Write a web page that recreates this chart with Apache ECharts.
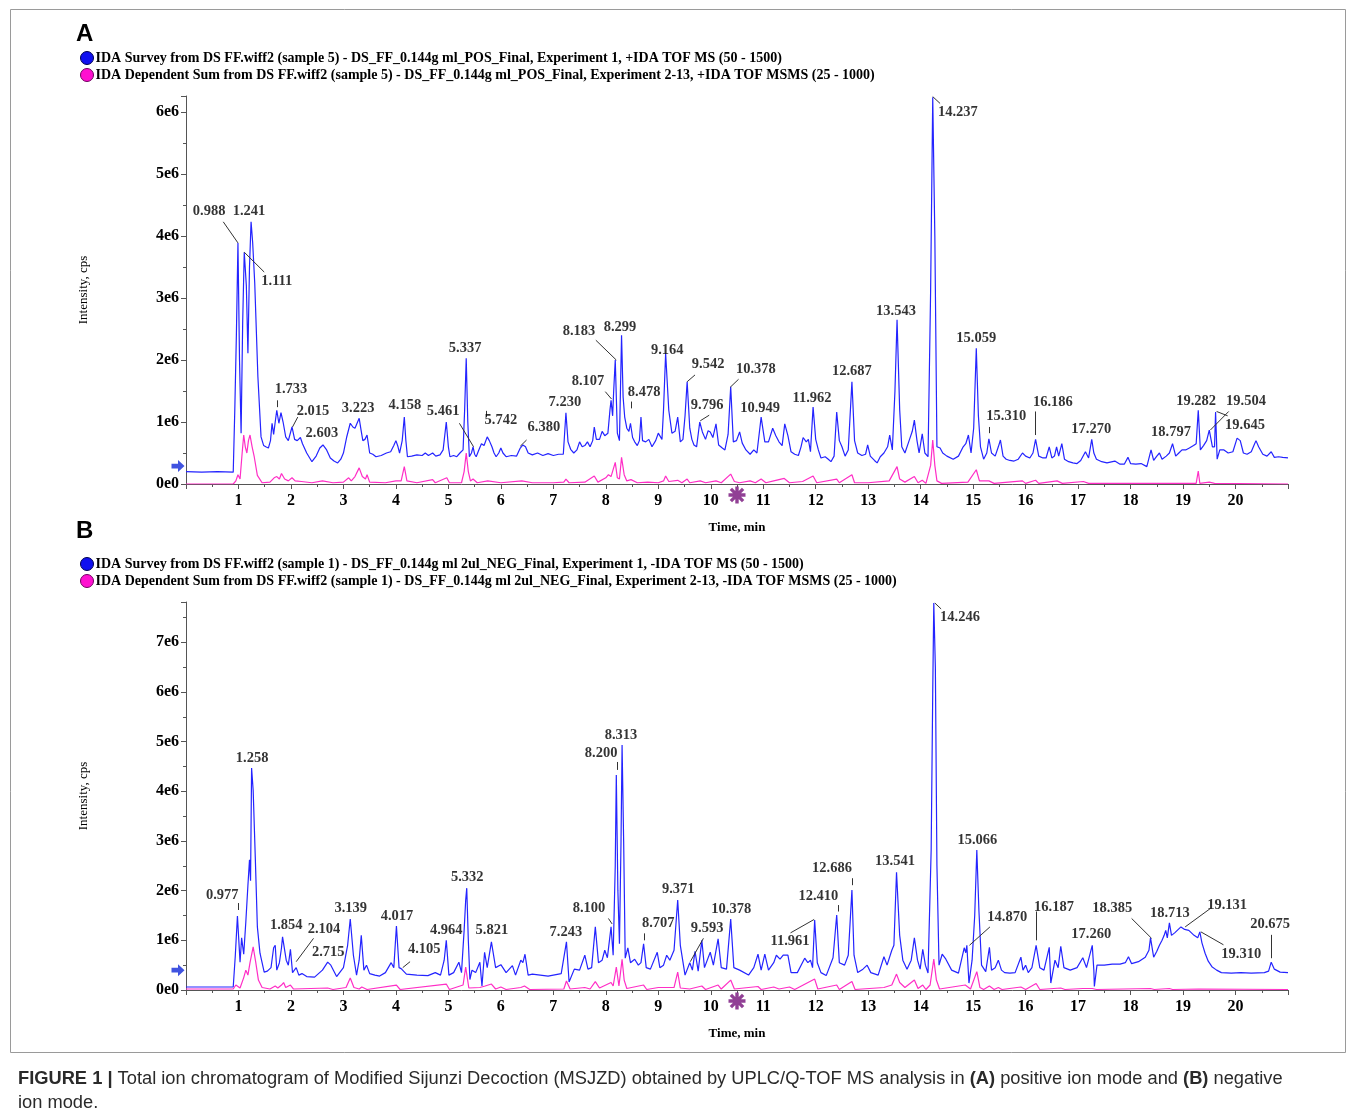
<!DOCTYPE html>
<html>
<head>
<meta charset="utf-8">
<title>TIC MSJZD</title>
<script src="https://cdn.jsdelivr.net/npm/echarts@6.0.0/dist/echarts.min.js"></script>
<style>
html,body{margin:0;padding:0;background:#fff;}
#chart{width:1355px;height:1120px;}
</style>
</head>
<body>
<div id="chart"></div>
<script>
// intensities are in units of 1e6 cps, time in min
var posSurvey = [[0,0.2],[0.3,0.19],[0.6,0.2],[0.9,0.19],[0.93,1.2],[0.96,2.4],[0.99,3.89],[1.02,2.0],[1.05,0.82],[1.08,2.6],[1.11,3.74],[1.15,3.2],[1.18,2.11],[1.21,3.5],[1.24,4.23],[1.27,3.9],[1.31,3.24],[1.37,1.73],[1.43,0.76],[1.48,0.62],[1.52,0.6],[1.57,0.58],[1.61,0.7],[1.64,0.98],[1.67,0.8],[1.7,1.0],[1.73,1.19],[1.77,0.98],[1.81,1.15],[1.85,1.0],[1.9,0.76],[1.95,0.7],[2.02,0.92],[2.07,0.72],[2.12,0.7],[2.18,0.75],[2.22,0.65],[2.3,0.5],[2.4,0.36],[2.48,0.45],[2.55,0.58],[2.61,0.63],[2.68,0.55],[2.75,0.42],[2.82,0.37],[2.89,0.34],[2.95,0.4],[3.0,0.5],[3.06,0.75],[3.13,0.98],[3.18,0.92],[3.22,0.9],[3.26,0.98],[3.3,1.06],[3.34,0.85],[3.37,0.7],[3.41,0.72],[3.45,0.79],[3.5,0.5],[3.56,0.48],[3.62,0.44],[3.72,0.46],[3.82,0.5],[3.9,0.52],[3.96,0.62],[4.0,0.7],[4.04,0.6],[4.07,0.5],[4.12,0.7],[4.16,1.08],[4.19,0.7],[4.22,0.44],[4.3,0.45],[4.4,0.47],[4.5,0.46],[4.56,0.5],[4.62,0.46],[4.7,0.5],[4.76,0.45],[4.84,0.47],[4.9,0.55],[4.96,1.0],[5.0,0.6],[5.03,0.44],[5.1,0.46],[5.16,0.44],[5.22,0.5],[5.28,0.55],[5.31,1.2],[5.34,2.03],[5.37,1.0],[5.4,0.44],[5.44,0.5],[5.47,0.6],[5.5,0.48],[5.53,0.44],[5.58,0.55],[5.63,0.65],[5.68,0.62],[5.74,0.76],[5.78,0.7],[5.83,0.6],[5.87,0.5],[5.91,0.44],[5.96,0.5],[6.0,0.58],[6.04,0.5],[6.1,0.44],[6.2,0.46],[6.3,0.45],[6.37,0.58],[6.42,0.63],[6.47,0.6],[6.52,0.5],[6.6,0.47],[6.7,0.5],[6.8,0.46],[6.9,0.49],[7.0,0.46],[7.1,0.48],[7.19,0.48],[7.24,1.15],[7.28,0.68],[7.33,0.56],[7.39,0.5],[7.45,0.55],[7.5,0.68],[7.55,0.6],[7.6,0.62],[7.65,0.68],[7.7,0.6],[7.75,0.7],[7.78,0.92],[7.82,0.72],[7.88,0.72],[7.93,0.85],[7.98,0.78],[8.04,0.82],[8.08,1.2],[8.1,1.35],[8.13,1.1],[8.15,1.5],[8.18,2.0],[8.22,0.82],[8.26,0.7],[8.3,2.4],[8.33,1.4],[8.36,1.08],[8.4,0.9],[8.44,0.85],[8.47,0.98],[8.51,0.75],[8.55,0.68],[8.6,0.62],[8.64,0.7],[8.67,1.08],[8.7,0.7],[8.76,0.68],[8.82,0.72],[8.88,0.6],[8.95,0.7],[9.0,0.82],[9.07,0.72],[9.1,1.2],[9.14,2.11],[9.2,1.19],[9.26,0.82],[9.32,0.85],[9.37,1.08],[9.42,0.68],[9.47,0.72],[9.51,1.1],[9.55,1.65],[9.6,0.9],[9.64,0.72],[9.68,0.63],[9.73,0.6],[9.79,1.0],[9.84,0.84],[9.9,0.72],[9.95,0.86],[9.99,0.84],[10.04,0.75],[10.1,0.97],[10.15,0.63],[10.22,0.58],[10.27,0.55],[10.33,0.8],[10.38,1.57],[10.43,0.68],[10.49,0.7],[10.55,0.84],[10.6,0.66],[10.67,0.55],[10.75,0.48],[10.82,0.55],[10.88,0.5],[10.96,1.08],[11.03,0.68],[11.1,0.68],[11.18,0.9],[11.24,0.78],[11.3,0.68],[11.36,0.62],[11.41,0.97],[11.47,0.78],[11.53,0.52],[11.6,0.48],[11.67,0.46],[11.72,0.6],[11.76,0.75],[11.82,0.68],[11.86,0.72],[11.9,0.52],[11.95,1.24],[12.0,0.72],[12.05,0.55],[12.1,0.42],[12.18,0.44],[12.24,0.4],[12.29,0.36],[12.35,0.45],[12.4,1.16],[12.45,0.7],[12.5,0.6],[12.56,0.45],[12.62,0.55],[12.69,1.65],[12.74,0.7],[12.8,0.5],[12.88,0.46],[12.95,0.48],[12.99,0.63],[13.04,0.45],[13.12,0.38],[13.17,0.34],[13.23,0.44],[13.3,0.5],[13.37,0.6],[13.41,0.79],[13.46,0.55],[13.51,1.5],[13.55,2.65],[13.6,1.2],[13.64,0.6],[13.7,0.5],[13.78,0.7],[13.84,0.85],[13.88,1.03],[13.93,0.7],[13.97,0.5],[14.03,0.81],[14.08,0.5],[14.14,0.44],[14.19,3.13],[14.23,6.24],[14.27,4.0],[14.31,0.6],[14.37,0.58],[14.42,0.5],[14.5,0.45],[14.62,0.4],[14.72,0.45],[14.81,0.6],[14.86,0.65],[14.91,0.79],[14.96,0.5],[15.01,0.9],[15.06,2.19],[15.1,1.1],[15.14,0.6],[15.2,0.4],[15.26,0.5],[15.3,0.73],[15.35,0.5],[15.42,0.45],[15.48,0.6],[15.52,0.71],[15.57,0.45],[15.63,0.4],[15.7,0.38],[15.78,0.37],[15.86,0.4],[15.94,0.5],[16.0,0.45],[16.08,0.42],[16.14,0.5],[16.19,0.72],[16.25,0.45],[16.33,0.42],[16.39,0.42],[16.45,0.6],[16.5,0.42],[16.55,0.45],[16.59,0.6],[16.63,0.45],[16.69,0.65],[16.74,0.4],[16.82,0.36],[16.9,0.34],[16.98,0.33],[17.05,0.38],[17.14,0.52],[17.2,0.42],[17.26,0.72],[17.3,0.5],[17.35,0.4],[17.45,0.36],[17.55,0.34],[17.7,0.37],[17.8,0.32],[17.88,0.32],[17.95,0.43],[18.0,0.33],[18.1,0.32],[18.2,0.33],[18.31,0.28],[18.39,0.55],[18.44,0.38],[18.5,0.45],[18.55,0.5],[18.6,0.4],[18.68,0.45],[18.74,0.5],[18.8,0.65],[18.86,0.45],[18.92,0.5],[18.98,0.55],[19.05,0.55],[19.12,0.58],[19.2,0.62],[19.25,0.65],[19.29,1.19],[19.33,0.55],[19.39,0.62],[19.45,0.7],[19.5,0.87],[19.56,0.6],[19.6,0.6],[19.62,1.16],[19.65,0.4],[19.7,0.55],[19.78,0.55],[19.86,0.5],[19.95,0.52],[20.03,0.74],[20.09,0.7],[20.15,0.5],[20.22,0.48],[20.3,0.52],[20.35,0.62],[20.39,0.7],[20.44,0.6],[20.52,0.48],[20.6,0.45],[20.68,0.52],[20.74,0.43],[20.82,0.44],[20.9,0.43],[21,0.42]];

var posDependent = [[0,0],[0.9,0],[0.95,0.05],[0.99,0.15],[1.03,0.08],[1.07,0.5],[1.1,0.79],[1.13,0.6],[1.16,0.5],[1.19,0.7],[1.22,0.79],[1.26,0.6],[1.3,0.44],[1.36,0.14],[1.45,0.02],[1.6,0.03],[1.68,0.1],[1.73,0.12],[1.78,0.08],[1.82,0.17],[1.88,0.08],[1.95,0.05],[2.02,0.1],[2.08,0.05],[2.2,0.04],[2.4,0.02],[2.6,0.05],[2.8,0.02],[3.0,0.03],[3.1,0.1],[3.15,0.05],[3.22,0.12],[3.3,0.26],[3.36,0.12],[3.42,0.08],[3.45,0.15],[3.5,0.03],[3.8,0.02],[4.0,0.05],[4.1,0.05],[4.16,0.28],[4.21,0.05],[4.4,0.02],[4.7,0.07],[4.75,0.02],[4.97,0.1],[5.02,0.02],[5.25,0.02],[5.3,0.2],[5.34,0.5],[5.38,0.2],[5.42,0.05],[5.47,0.08],[5.55,0.02],[5.75,0.05],[6.0,0.02],[6.4,0.05],[6.6,0.02],[7.0,0.02],[7.2,0.03],[7.24,0.08],[7.3,0.02],[7.6,0.03],[7.78,0.13],[7.85,0.03],[8.0,0.1],[8.05,0.15],[8.1,0.12],[8.18,0.35],[8.22,0.1],[8.26,0.08],[8.3,0.43],[8.35,0.15],[8.4,0.05],[8.48,0.07],[8.6,0.02],[8.8,0.03],[9.0,0.02],[9.1,0.05],[9.14,0.13],[9.2,0.04],[9.37,0.06],[9.45,0.02],[9.55,0.08],[9.6,0.02],[9.8,0.05],[9.9,0.02],[10.1,0.05],[10.2,0.02],[10.38,0.16],[10.45,0.04],[10.55,0.02],[10.75,0.05],[10.85,0.02],[10.96,0.08],[11.05,0.02],[11.2,0.05],[11.4,0.09],[11.5,0.02],[11.75,0.04],[11.95,0.13],[12.02,0.02],[12.4,0.08],[12.45,0.02],[12.69,0.15],[12.74,0.02],[13.0,0.02],[13.4,0.05],[13.55,0.28],[13.6,0.08],[13.7,0.03],[13.88,0.12],[13.95,0.02],[14.03,0.06],[14.1,0.01],[14.19,0.3],[14.23,0.71],[14.27,0.3],[14.31,0.05],[14.4,0.01],[14.9,0.03],[15.06,0.23],[15.12,0.05],[15.3,0.05],[15.4,0.01],[15.94,0.05],[16.0,0.01],[16.19,0.06],[16.25,0.01],[16.6,0.05],[16.7,0.01],[17.1,0.04],[17.2,0.01],[19.25,0.01],[19.29,0.21],[19.32,0.01],[19.5,0.03],[19.6,0.01],[21,0]];

var negSurvey = [[0,0.06],[0.5,0.06],[0.9,0.06],[0.94,0.7],[0.98,1.49],[1.03,0.56],[1.06,1.05],[1.1,0.72],[1.14,1.37],[1.18,2.11],[1.21,2.62],[1.23,2.2],[1.25,4.47],[1.28,4.02],[1.32,2.68],[1.36,1.27],[1.41,0.74],[1.49,0.36],[1.55,0.38],[1.62,0.45],[1.67,0.85],[1.7,0.9],[1.73,0.4],[1.78,0.55],[1.82,0.85],[1.84,1.07],[1.87,1.1],[1.91,0.6],[1.95,0.5],[1.99,0.82],[2.03,0.35],[2.1,0.45],[2.15,0.3],[2.21,0.33],[2.3,0.27],[2.45,0.26],[2.6,0.4],[2.7,0.56],[2.76,0.5],[2.87,0.27],[3.0,0.45],[3.08,0.9],[3.13,1.43],[3.19,0.7],[3.25,0.3],[3.3,0.6],[3.34,1.1],[3.39,0.4],[3.44,0.5],[3.5,0.33],[3.6,0.3],[3.69,0.28],[3.8,0.35],[3.91,0.55],[3.96,0.45],[4.01,1.29],[4.06,0.45],[4.1,0.43],[4.2,0.32],[4.4,0.3],[4.61,0.29],[4.75,0.35],[4.85,0.3],[4.92,0.6],[4.96,1.0],[5.01,0.3],[5.1,0.35],[5.2,0.56],[5.25,0.35],[5.3,1.2],[5.33,1.81],[5.35,2.05],[5.38,1.0],[5.41,0.21],[5.45,0.4],[5.52,0.35],[5.6,0.56],[5.64,0.08],[5.69,0.76],[5.74,0.45],[5.82,0.97],[5.9,0.45],[6.0,0.51],[6.1,0.35],[6.22,0.49],[6.28,0.3],[6.38,0.6],[6.42,0.55],[6.46,0.72],[6.52,0.3],[6.6,0.32],[6.75,0.3],[6.9,0.28],[7.0,0.3],[7.15,0.33],[7.25,0.97],[7.3,0.16],[7.4,0.42],[7.5,0.4],[7.6,0.7],[7.66,0.42],[7.73,0.45],[7.8,1.27],[7.86,0.55],[7.93,0.6],[7.98,0.8],[8.03,0.65],[8.1,1.27],[8.14,0.7],[8.18,2.5],[8.2,4.33],[8.23,2.0],[8.26,0.93],[8.29,3.0],[8.31,4.93],[8.34,3.0],[8.37,0.64],[8.42,0.85],[8.47,0.55],[8.55,0.62],[8.62,0.5],[8.67,0.55],[8.72,0.93],[8.77,0.45],[8.85,0.42],[8.98,0.76],[9.03,0.45],[9.1,0.5],[9.16,0.7],[9.22,0.6],[9.3,0.8],[9.37,1.81],[9.42,0.9],[9.51,0.3],[9.6,0.55],[9.65,0.4],[9.7,0.78],[9.76,0.38],[9.83,1.0],[9.88,0.45],[9.99,0.76],[10.05,0.5],[10.14,1.03],[10.2,0.45],[10.3,0.42],[10.38,1.43],[10.44,0.45],[10.55,0.4],[10.72,0.3],[10.82,0.45],[10.9,0.72],[10.96,0.4],[11.03,0.72],[11.1,0.4],[11.2,0.55],[11.25,0.7],[11.32,0.62],[11.38,0.7],[11.47,0.7],[11.53,0.35],[11.65,0.35],[11.79,0.64],[11.85,0.55],[11.9,0.6],[11.94,0.45],[11.98,1.41],[12.03,0.55],[12.1,0.35],[12.2,0.29],[12.33,0.65],[12.4,1.51],[12.45,0.55],[12.55,0.5],[12.62,0.7],[12.69,2.01],[12.73,0.7],[12.8,0.35],[12.9,0.42],[12.98,0.5],[13.05,0.35],[13.19,0.3],[13.3,0.67],[13.36,0.5],[13.45,0.8],[13.49,0.9],[13.54,2.37],[13.6,1.1],[13.66,0.6],[13.74,0.42],[13.82,0.6],[13.88,1.05],[13.94,0.6],[13.99,0.42],[14.04,0.82],[14.09,0.5],[14.14,0.34],[14.2,2.82],[14.23,6.0],[14.25,7.79],[14.28,6.5],[14.31,2.5],[14.35,0.5],[14.41,0.72],[14.48,0.62],[14.59,0.4],[14.72,0.34],[14.83,0.85],[14.86,0.75],[14.88,0.9],[14.92,0.14],[14.98,0.6],[15.03,1.5],[15.07,2.82],[15.11,1.6],[15.16,0.5],[15.24,0.37],[15.31,0.86],[15.35,0.4],[15.42,0.45],[15.48,0.6],[15.54,0.4],[15.6,0.35],[15.7,0.34],[15.8,0.35],[15.91,0.66],[15.95,0.4],[16.0,0.5],[16.05,0.35],[16.12,0.45],[16.2,0.9],[16.27,0.45],[16.35,0.4],[16.45,0.86],[16.48,0.14],[16.56,0.6],[16.62,0.45],[16.67,0.88],[16.73,0.45],[16.85,0.4],[16.98,0.45],[17.09,0.65],[17.16,0.45],[17.27,0.9],[17.3,0.4],[17.31,0.07],[17.36,0.5],[17.5,0.5],[17.65,0.52],[17.8,0.52],[17.9,0.55],[17.96,0.67],[18.02,0.53],[18.15,0.57],[18.28,0.66],[18.35,0.8],[18.38,1.05],[18.44,0.66],[18.5,0.78],[18.55,0.9],[18.6,1.0],[18.64,1.1],[18.67,1.2],[18.7,1.05],[18.74,1.35],[18.78,1.1],[18.84,1.15],[18.89,1.2],[18.96,1.27],[19.03,1.22],[19.11,1.2],[19.21,1.1],[19.28,1.05],[19.32,1.17],[19.36,0.95],[19.42,0.74],[19.48,0.58],[19.55,0.47],[19.64,0.4],[19.73,0.35],[19.92,0.34],[20.1,0.35],[20.3,0.34],[20.55,0.35],[20.63,0.38],[20.68,0.56],[20.74,0.42],[20.85,0.36],[21,0.35]];

var negDependent = [[0,0.02],[0.9,0.02],[0.95,0.1],[0.98,0.14],[1.03,0.04],[1.1,0.25],[1.14,0.4],[1.18,0.3],[1.22,0.55],[1.28,0.87],[1.33,0.55],[1.38,0.2],[1.45,0.05],[1.6,0.02],[1.7,0.08],[1.75,0.04],[1.82,0.1],[1.86,0.15],[1.9,0.05],[1.99,0.1],[2.05,0.02],[2.7,0.04],[2.8,0.01],[3.05,0.05],[3.13,0.24],[3.2,0.05],[3.3,0.02],[3.35,0.06],[3.45,0.01],[4.01,0.1],[4.08,0.01],[4.96,0.12],[5.02,0.01],[5.28,0.1],[5.33,0.46],[5.39,0.04],[5.6,0.05],[5.7,0.08],[5.82,0.12],[5.9,0.02],[6.0,0.06],[6.1,0.01],[6.38,0.05],[6.45,0.08],[6.55,0.01],[7.2,0.02],[7.25,0.18],[7.32,0.02],[7.6,0.05],[7.7,0.02],[7.8,0.17],[7.88,0.04],[8.0,0.1],[8.1,0.15],[8.14,0.08],[8.2,0.46],[8.25,0.08],[8.31,0.62],[8.35,0.2],[8.4,0.03],[8.72,0.1],[8.78,0.01],[9.0,0.05],[9.3,0.05],[9.37,0.36],[9.42,0.04],[9.6,0.02],[9.83,0.08],[9.9,0.01],[10.14,0.1],[10.2,0.02],[10.38,0.2],[10.45,0.02],[10.9,0.07],[10.96,0.01],[11.2,0.06],[11.3,0.02],[11.5,0.06],[11.6,0.01],[11.98,0.22],[12.04,0.02],[12.4,0.1],[12.45,0.01],[12.69,0.17],[12.75,0.01],[13.3,0.05],[13.45,0.1],[13.54,0.32],[13.6,0.15],[13.7,0.05],[13.88,0.2],[13.95,0.03],[14.04,0.1],[14.1,0.01],[14.18,0.1],[14.25,0.62],[14.3,0.2],[14.36,0.02],[14.85,0.1],[14.95,0.02],[15.07,0.37],[15.13,0.05],[15.2,0.01],[15.31,0.08],[15.4,0.01],[15.48,0.05],[15.55,0.01],[15.91,0.06],[16.0,0.01],[16.2,0.13],[16.27,0.01],[16.67,0.04],[16.75,0.01],[17.09,0.03],[17.27,0.03],[17.35,0.01],[18.38,0.03],[18.45,0.01],[18.74,0.03],[18.8,0.01],[19.3,0.02],[21,0.01]];

// peak labels: text, label centre (min, 1e6 cps)
var posLabels = [['0.988',0.44,4.4],['1.241',1.2,4.4],['1.111',1.73,3.27],['1.733',2.0,1.53],['2.015',2.42,1.18],['2.603',2.59,0.82],['3.223',3.28,1.23],['4.158',4.17,1.27],['5.461',4.9,1.18],['5.337',5.32,2.19],['5.742',6.0,1.03],['6.380',6.82,0.92],['7.230',7.22,1.32],['8.107',7.66,1.65],['8.183',7.49,2.47],['8.299',8.27,2.53],['8.478',8.73,1.48],['9.164',9.17,2.15],['9.542',9.95,1.94],['9.796',9.93,1.27],['10.378',10.86,1.85],['10.949',10.94,1.23],['11.962',11.93,1.39],['12.687',12.69,1.82],['13.543',13.53,2.79],['14.237',14.71,6.0],['15.059',15.06,2.35],['15.310',15.63,1.1],['16.186',16.52,1.32],['17.270',17.25,0.89],['18.797',18.77,0.84],['19.282',19.25,1.34],['19.504',20.2,1.34],['19.645',20.18,0.95]];
var posLeaders = [[0.71,4.23,0.99,3.89],[1.11,3.74,1.49,3.42],[1.74,1.35,1.74,1.24],[2.03,0.92,2.13,1.08],[5.21,0.98,5.48,0.6],[5.73,1.18,5.73,1.08],[6.37,0.61,6.49,0.71],[7.99,1.49,8.11,1.37],[7.81,2.32,8.2,2.0],[8.48,1.33,8.48,1.22],[9.55,1.65,9.7,1.76],[9.8,1.02,9.97,1.11],[10.37,1.56,10.53,1.69],[14.23,6.25,14.37,6.14],[15.3,0.92,15.3,0.82],[16.18,1.17,16.18,0.79],[19.52,0.87,19.87,1.17],[19.64,1.17,19.85,1.1]];

var negLabels = [['0.977',0.69,1.91],['1.258',1.26,4.67],['1.854',1.91,1.31],['2.104',2.63,1.23],['2.715',2.71,0.76],['3.139',3.14,1.65],['4.017',4.02,1.49],['4.105',4.54,0.82],['4.964',4.96,1.21],['5.332',5.36,2.27],['5.821',5.83,1.21],['7.243',7.24,1.17],['8.100',7.68,1.65],['8.200',7.91,4.77],['8.313',8.29,5.13],['8.707',9.0,1.35],['9.371',9.38,2.03],['9.593',9.93,1.25],['10.378',10.39,1.63],['11.961',11.51,0.99],['12.410',12.05,1.89],['12.686',12.31,2.45],['13.541',13.51,2.6],['14.246',14.75,7.5],['15.066',15.08,3.02],['14.870',15.65,1.47],['16.187',16.54,1.67],['17.260',17.25,1.13],['18.385',17.65,1.65],['18.713',18.75,1.55],['19.131',19.84,1.71],['19.310',20.11,0.72],['20.675',20.66,1.33]];
var negLeaders = [[0.99,1.75,0.99,1.61],[2.1,0.57,2.43,1.04],[4.13,0.45,4.27,0.57],[8.05,1.44,8.12,1.33],[8.22,4.59,8.22,4.43],[8.73,1.14,8.73,1.0],[9.61,0.57,9.86,1.04],[11.52,1.15,11.97,1.42],[12.42,1.71,12.42,1.58],[12.7,2.25,12.7,2.11],[14.27,7.79,14.39,7.67],[14.93,0.9,15.32,1.27],[16.2,1.58,16.2,1.0],[18.02,1.44,18.4,1.04],[19.52,1.64,19.04,1.27],[19.34,1.17,19.77,0.91],[20.69,1.11,20.69,0.64]];

var posNames = ['IDA Survey from DS FF.wiff2 (sample 5) - DS_FF_0.144g ml_POS_Final, Experiment 1, +IDA TOF MS (50 - 1500)',
                'IDA Dependent Sum from DS FF.wiff2 (sample 5) - DS_FF_0.144g ml_POS_Final, Experiment 2-13, +IDA TOF MSMS (25 - 1000)'];
var negNames = ['IDA Survey from DS FF.wiff2 (sample 1) - DS_FF_0.144g ml 2ul_NEG_Final, Experiment 1, -IDA TOF MS (50 - 1500)',
                'IDA Dependent Sum from DS FF.wiff2 (sample 1) - DS_FF_0.144g ml 2ul_NEG_Final, Experiment 2-13, -IDA TOF MSMS (25 - 1000)'];
var timeTicks = [1,2,3,4,5,6,7,8,9,10,11,12,13,14,15,16,17,18,19,20];

var serif = 'Liberation Serif';
var blue = '#2424ff', pink = '#ff2ec6';

var chart = echarts.init(document.getElementById('chart'));

function xAxisCfg(gi) {
    return {
        type: 'value', gridIndex: gi, min: 0, max: 21, interval: 1,
        axisLine: {show: true, onZero: false, lineStyle: {color: '#555', width: 1}},
        axisTick: {show: true, length: 5, lineStyle: {color: '#555'}},
        minorTick: {show: true, splitNumber: 2, length: 3, lineStyle: {color: '#555'}},
        splitLine: {show: false},
        axisLabel: {
            color: '#000', fontFamily: serif, fontWeight: 'bold', fontSize: 16, margin: 9,
            formatter: function (v) { return timeTicks.indexOf(v) >= 0 ? String(v) : ''; }
        },
        name: 'Time, min', nameLocation: 'middle', nameGap: 37,
        nameTextStyle: {color: '#000', fontFamily: serif, fontWeight: 'bold', fontSize: 13}
    };
}
function yAxisCfg(gi, max) {
    return {
        type: 'value', gridIndex: gi, min: 0, max: max, interval: 1,
        axisLine: {show: true, lineStyle: {color: '#555', width: 1}},
        axisTick: {show: true, length: 5, lineStyle: {color: '#555'}},
        minorTick: {show: true, splitNumber: 2, length: 3, lineStyle: {color: '#555'}},
        splitLine: {show: false},
        axisLabel: {
            color: '#000', fontFamily: serif, fontWeight: 'bold', fontSize: 16, margin: 7, showMaxLabel: false,
            formatter: function (v) { return v === 0 ? '0e0' : (Math.round(v) === v ? v + 'e6' : ''); }
        },
        name: 'Intensity, cps', nameLocation: 'middle', nameGap: 96,
        nameTextStyle: {color: '#000', fontFamily: serif, fontSize: 13}
    };
}
function traceSeries(name, data, color, gi) {
    return {
        name: name, type: 'line', xAxisIndex: gi, yAxisIndex: gi, data: data,
        showSymbol: false, symbol: 'none', silent: true, z: color === pink ? 3 : 2,
        lineStyle: {color: color, width: 1.2}, itemStyle: {color: color}
    };
}
function labelSeries(labels, leaders, gi) {
    return {
        type: 'scatter', xAxisIndex: gi, yAxisIndex: gi, symbolSize: 1, silent: true, z: 5,
        itemStyle: {color: 'rgba(0,0,0,0)'},
        data: labels.map(function (d) { return {name: d[0], value: [d[1], d[2]]}; }),
        label: {show: true, position: 'inside', formatter: '{b}', color: '#000',
                fontFamily: serif, fontWeight: 'bold', fontSize: 14.5},
        markLine: {
            silent: true, symbol: ['none', 'none'], animation: false,
            label: {show: false},
            lineStyle: {color: '#333', width: 1, type: 'solid'},
            data: leaders.map(function (d) { return [{coord: [d[0], d[1]]}, {coord: [d[2], d[3]]}]; })
        }
    };
}
var arrowPath = 'path://M0,3 L5,3 L5,0 L10,5 L5,10 L5,7 L0,7 Z';
var starPath = 'path://M0,4 L10,4 L10,6 L0,6 Z M4,0 L6,0 L6,10 L4,10 Z M0.7,2.1 L2.1,0.7 L9.3,7.9 L7.9,9.3 Z M7.9,0.7 L9.3,2.1 L2.1,9.3 L0.7,7.9 Z';
function markerSeries(gi, arrowLevel) {
    return [{
        type: 'scatter', xAxisIndex: gi, yAxisIndex: gi, silent: true, clip: false, z: 6,
        symbol: arrowPath, symbolSize: [13, 12], symbolOffset: [-8, 0],
        itemStyle: {color: '#1028d8'}, data: [[0, arrowLevel]]
    }, {
        type: 'scatter', xAxisIndex: gi, yAxisIndex: gi, silent: true, clip: false, z: 6,
        symbol: starPath, symbolSize: 17, symbolOffset: [0, 11],
        itemStyle: {color: '#75107a'}, data: [[10.5, 0]]
    }];
}
function legendCfg(names, top) {
    return {
        orient: 'vertical', left: 75, top: top, itemGap: 3, itemWidth: 13, itemHeight: 13,
        icon: 'circle', selectedMode: false,
        data: [{name: names[0], itemStyle: {color: '#1010f0', borderColor: '#000050', borderWidth: 1}},
               {name: names[1], itemStyle: {color: '#ff10d0', borderColor: '#700060', borderWidth: 1}}],
        textStyle: {color: '#000', fontFamily: serif, fontWeight: 'bold', fontSize: 14, padding: [0, 0, 0, -3]}
    };
}

var option = {
    animation: false,
    backgroundColor: '#fff',
    title: [
        {text: 'A', left: 76, top: 22, textStyle: {fontFamily: 'Liberation Sans', fontWeight: 'bold', fontSize: 24, color: '#000'}, padding: 0},
        {text: 'B', left: 76, top: 519, textStyle: {fontFamily: 'Liberation Sans', fontWeight: 'bold', fontSize: 24, color: '#000'}, padding: 0}
    ],
    legend: [legendCfg(posNames, 46), legendCfg(negNames, 552)],
    grid: [
        {left: 186, top: 96, width: 1102, height: 388},
        {left: 186, top: 602, width: 1102, height: 388}
    ],
    xAxis: [xAxisCfg(0), xAxisCfg(1)],
    yAxis: [yAxisCfg(0, 6.26), yAxisCfg(1, 7.81)],
    series: [
        traceSeries(posNames[0], posSurvey, blue, 0),
        traceSeries(posNames[1], posDependent, pink, 0),
        labelSeries(posLabels, posLeaders, 0),
        traceSeries(negNames[0], negSurvey, blue, 1),
        traceSeries(negNames[1], negDependent, pink, 1),
        labelSeries(negLabels, negLeaders, 1)
    ].concat(markerSeries(0, 0.29), markerSeries(1, 0.4)),
    graphic: [
        {type: 'rect', shape: {x: 10.5, y: 9.5, width: 1335, height: 1043}, style: {fill: 'none', stroke: '#9a9a9a', lineWidth: 1}, silent: true},
        {type: 'text', left: 18, top: 1067, silent: true, style: {
            text: '{b|FIGURE 1 |} Total ion chromatogram of Modified Sijunzi Decoction (MSJZD) obtained by UPLC/Q-TOF MS analysis in {b|(A)} positive ion mode and {b|(B)} negative\nion mode.',
            fontFamily: 'Liberation Sans', fontSize: 18.3, lineHeight: 24, fill: '#2a2a2a',
            rich: {b: {fontFamily: 'Liberation Sans', fontSize: 18.3, fontWeight: 'bold', fill: '#2a2a2a', lineHeight: 24}}
        }}
    ]
};
chart.setOption(option);
</script>
</body>
</html>
